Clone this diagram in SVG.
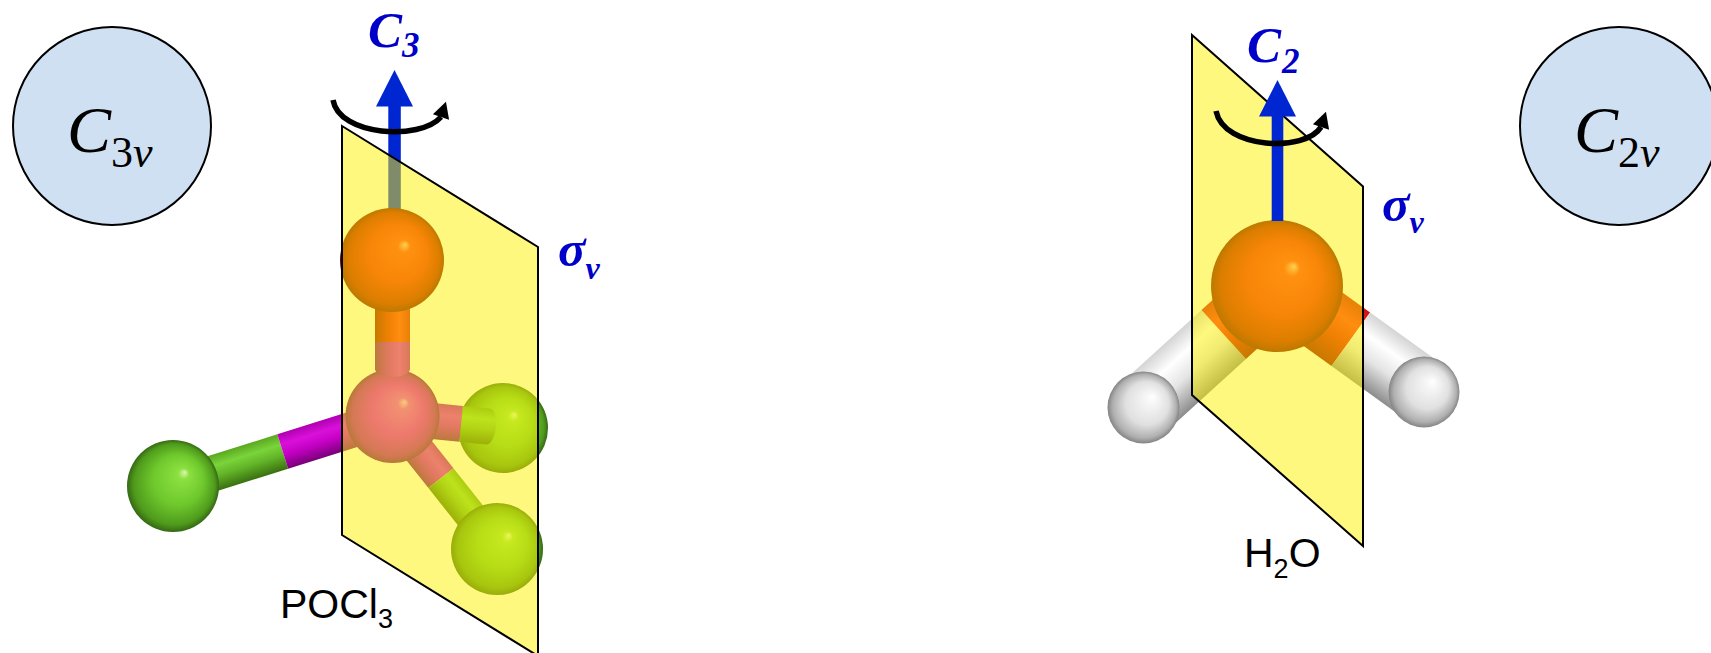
<svg xmlns="http://www.w3.org/2000/svg" width="1711" height="653" viewBox="0 0 1711 653">
  <defs>
    <!-- atom shading: highlight toward the upper right -->
    <radialGradient id="sRed" cx="0.5" cy="0.5" r="0.5" fx="0.63" fy="0.35">
      <stop offset="0" stop-color="#ffb0a0"/>
      <stop offset="0.12" stop-color="#ff3020"/>
      <stop offset="0.55" stop-color="#f01a10"/>
      <stop offset="0.88" stop-color="#b80a00"/>
      <stop offset="1" stop-color="#7a0000"/>
    </radialGradient>
    <radialGradient id="sMag" cx="0.5" cy="0.5" r="0.5" fx="0.63" fy="0.35">
      <stop offset="0" stop-color="#f4a8f4"/>
      <stop offset="0.12" stop-color="#e430e4"/>
      <stop offset="0.55" stop-color="#dc00dc"/>
      <stop offset="0.88" stop-color="#a800a8"/>
      <stop offset="1" stop-color="#700070"/>
    </radialGradient>
    <radialGradient id="sGreen" cx="0.5" cy="0.5" r="0.5" fx="0.63" fy="0.35">
      <stop offset="0" stop-color="#dcf8b0"/>
      <stop offset="0.12" stop-color="#8ce040"/>
      <stop offset="0.55" stop-color="#6ec82c"/>
      <stop offset="0.88" stop-color="#4f9a1c"/>
      <stop offset="1" stop-color="#356814"/>
    </radialGradient>
    <radialGradient id="sWhite" cx="0.5" cy="0.5" r="0.5" fx="0.63" fy="0.35">
      <stop offset="0" stop-color="#ffffff"/>
      <stop offset="0.2" stop-color="#f4f4f4"/>
      <stop offset="0.6" stop-color="#e0e0e0"/>
      <stop offset="0.88" stop-color="#b0b0b0"/>
      <stop offset="1" stop-color="#848484"/>
    </radialGradient>
    <!-- bond shading across the cylinder width -->
    <linearGradient id="bRed" x1="0" y1="0" x2="0" y2="1">
      <stop offset="0" stop-color="#d01010"/>
      <stop offset="0.3" stop-color="#ff2a20"/>
      <stop offset="0.6" stop-color="#e01008"/>
      <stop offset="1" stop-color="#900000"/>
    </linearGradient>
    <linearGradient id="bMag" x1="0" y1="0" x2="0" y2="1">
      <stop offset="0" stop-color="#b000b0"/>
      <stop offset="0.3" stop-color="#da10da"/>
      <stop offset="0.6" stop-color="#c400c4"/>
      <stop offset="1" stop-color="#780078"/>
    </linearGradient>
    <linearGradient id="bGreen" x1="0" y1="0" x2="0" y2="1">
      <stop offset="0" stop-color="#5aa820"/>
      <stop offset="0.3" stop-color="#7ad43a"/>
      <stop offset="0.6" stop-color="#62b428"/>
      <stop offset="1" stop-color="#3a7010"/>
    </linearGradient>
    <linearGradient id="bWhite" x1="0" y1="0" x2="0" y2="1">
      <stop offset="0" stop-color="#d4d4d4"/>
      <stop offset="0.3" stop-color="#ffffff"/>
      <stop offset="0.6" stop-color="#e4e4e4"/>
      <stop offset="1" stop-color="#8c8c8c"/>
    </linearGradient>
    <!-- head of the rotation arrows -->
    <marker id="turnHead" markerUnits="userSpaceOnUse" markerWidth="28" markerHeight="28"
            viewBox="-4 -14 28 28" refX="0" refY="0" orient="-72">
      <path d="M0,-8.5 L16,0 L0,8.5 Z" fill="#000"/>
    </marker>
  </defs>

  <style>
    .pg { fill: #CFE0F2; stroke: #000; stroke-width: 2; }
    .pg-label { font-family: "Liberation Serif", "Times New Roman", serif; font-style: italic; font-size: 66px; fill: #000; }
    .mirror { fill: #FFF200; fill-opacity: 0.5; stroke: #000; stroke-width: 2; }
    .axis { fill: #0026D2; }
    .turn { fill: none; stroke: #000; stroke-width: 5.5; marker-end: url(#turnHead); }
    .elem { font-family: "Liberation Serif", "Times New Roman", serif; font-weight: bold; font-style: italic; font-size: 51px; fill: #0000C8; }
    .name { font-family: "Liberation Sans", Arial, sans-serif; font-size: 41px; fill: #000; }
  </style>

  <!-- point group badges -->
  <g id="badge-c3v">
    <circle class="pg" cx="112" cy="126" r="99"/>
    <text class="pg-label" x="67" y="152">C<tspan font-size="44" font-style="normal" dy="15">3</tspan><tspan font-size="44">v</tspan></text>
  </g>
  <g id="badge-c2v">
    <circle class="pg" cx="1619" cy="126" r="99"/>
    <text class="pg-label" x="1574" y="152">C<tspan font-size="44" font-style="normal" dy="15">2</tspan><tspan font-size="44">v</tspan></text>
  </g>

  <!-- POCl3: ball-and-stick model, seen through its mirror plane -->
  <g id="pocl3">
    <g id="c3-axis" class="axis">
      <rect x="388.3" y="104" width="12.5" height="114"/>
      <polygon points="394.5,70 413,106.5 376,106.5"/>
    </g>
    <g transform="translate(173,486) rotate(-17.45)">
      <rect x="0" y="-18" width="115" height="36" fill="url(#bGreen)"/>
      <rect x="115" y="-18" width="115" height="36" fill="url(#bMag)"/>
    </g>
    <circle cx="173" cy="486" r="46" fill="url(#sGreen)"/>
    <g transform="translate(392.5,417) rotate(51.6)">
      <rect x="0" y="-16" width="78" height="32" fill="url(#bMag)"/>
      <rect x="78" y="-16" width="90" height="32" fill="url(#bGreen)"/>
    </g>
    <circle cx="497" cy="549" r="46" fill="url(#sGreen)"/>
    <circle cx="503" cy="428" r="45" fill="url(#sGreen)"/>
    <g transform="translate(392.5,417) rotate(5.7)">
      <rect x="0" y="-18" width="69" height="36" fill="url(#bMag)"/>
      <path d="M69,-18 H96 A8 18 0 0 1 96,18 H69 Z" fill="url(#bGreen)"/>
    </g>
    <circle cx="392.5" cy="416" r="47" fill="url(#sMag)"/>
    <g transform="translate(392.5,260) rotate(90)">
      <rect x="0" y="-17.5" width="82" height="35" fill="url(#bRed)"/>
      <path d="M82,-17.5 H109 A8 17.5 0 0 1 109,17.5 H82 Z" fill="url(#bMag)"/>
    </g>
    <circle cx="392" cy="260" r="52" fill="url(#sRed)"/>
    <polygon id="plane-pocl3" class="mirror" points="342,126 538,247 538,656 342,535"/>
    <path id="c3-turn" class="turn" d="M333,100 C339,136 420,141 441,117"/>
  </g>

  <!-- H2O: ball-and-stick model, mirror plane in front, axis on top -->
  <g id="h2o">
    <g transform="translate(1143.5,407.5) rotate(-42.3)">
      <rect x="0" y="-33" width="108.5" height="66" fill="url(#bWhite)"/>
      <rect x="108.5" y="-33" width="72" height="66" fill="url(#bRed)"/>
    </g>
    <g transform="translate(1277,286) rotate(35.8)">
      <rect x="0" y="-33" width="91" height="66" fill="url(#bRed)"/>
      <rect x="91" y="-33" width="90" height="66" fill="url(#bWhite)"/>
    </g>
    <circle cx="1143.5" cy="407.5" r="36" fill="url(#sWhite)"/>
    <circle cx="1424" cy="392" r="35.5" fill="url(#sWhite)"/>
    <circle cx="1277" cy="286" r="66" fill="url(#sRed)"/>
    <polygon id="plane-h2o" class="mirror" points="1192,35 1363,186.5 1363,546 1192,395"/>
    <g id="c2-axis" class="axis">
      <rect x="1271.7" y="114" width="11.6" height="107"/>
      <polygon points="1277.5,80 1296,116.5 1259,116.5"/>
    </g>
    <path id="c2-turn" class="turn" d="M1216,111 C1224,150 1306,152 1321,127"/>
  </g>

  <!-- symmetry element labels -->
  <g id="labels">
    <text class="elem" x="368" y="47">C<tspan font-size="35" dy="10">3</tspan></text>
    <text class="elem" x="1247" y="62">C<tspan font-size="35" dx="1" dy="11">2</tspan></text>
    <text class="elem" x="558" y="266" font-size="58">σ<tspan font-size="32" dy="13">v</tspan></text>
    <text class="elem" x="1382" y="221" font-size="58">σ<tspan font-size="32" dy="12">v</tspan></text>
    <text class="name" x="280" y="618">POCl<tspan font-size="27" dy="10">3</tspan></text>
    <text class="name" x="1244" y="567">H<tspan font-size="27" dy="11">2</tspan><tspan dy="-11">O</tspan></text>
  </g>
</svg>
